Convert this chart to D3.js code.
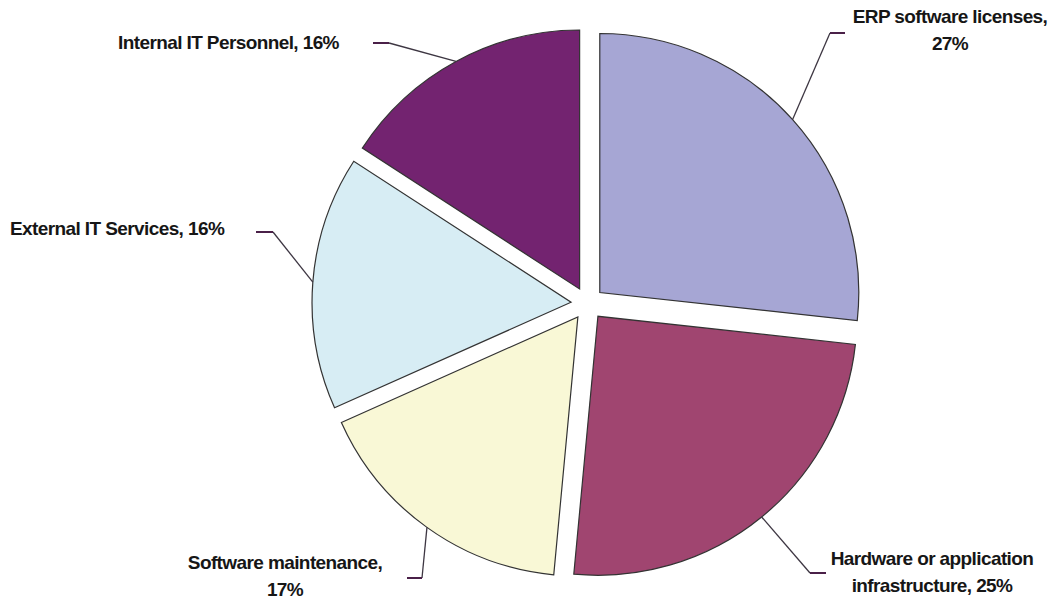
<!DOCTYPE html>
<html>
<head>
<meta charset="utf-8">
<script src="https://cdn.jsdelivr.net/npm/d3@7"></script>
<style>
  body { margin: 0; background: #fff; }
  text { font-family: "Liberation Sans", Arial, sans-serif; font-weight: bold; fill: #161616; }
</style>
</head>
<body>
<div id="chart"></div>
<script>
var svgWidth = 1053;
var svgHeight = 601;

// data
var categories = ["ERP software licenses", "Hardware or application infrastructure", "Software maintenance", "External IT Services", "Internal IT Personnel"];
var values = [27, 25, 17, 16, 16];
var colors = ["#a6a6d4", "#a04570", "#f9f8d6", "#d7edf4", "#732370"];
var labelLines = [
  ["ERP software licenses,", "27%"],
  ["Hardware or application", "infrastructure, 25%"],
  ["Software maintenance,", "17%"],
  ["External IT Services, 16%"],
  ["Internal IT Personnel, 16%"]
];

// layout for labels: text anchor point, elbow and stub end of leader
var labelLayout = [
  { x: 950, y: 23, anchor: "middle", elbow: [830, 33], end: [845, 33] },
  { x: 932, y: 565, anchor: "middle", elbow: [810, 573], end: [826, 573] },
  { x: 285, y: 569, anchor: "middle", elbow: [422, 578], end: [407, 578] },
  { x: 10, y: 235, anchor: "start", elbow: [273, 232], end: [256, 232] },
  { x: 118, y: 49, anchor: "start", elbow: [389, 43], end: [373, 43] }
];

var cx = 587.5, cy = 303.5, radius = 259, explode = 16.5;

var svg = d3.select("#chart")
  .append("svg")
  .attr("width", svgWidth)
  .attr("height", svgHeight);

var pie = d3.pie().sort(null).value(d => d);
var arcs = pie(values);

var arc = d3.arc().innerRadius(0).outerRadius(radius);

var chartGroup = svg.append("g")
  .attr("transform", `translate(${cx}, ${cy})`);

function mid(d) { return (d.startAngle + d.endAngle) / 2; }
function offset(d) {
  var a = mid(d);
  return [explode * Math.sin(a), -explode * Math.cos(a)];
}

//slices
chartGroup.selectAll("path.slice")
  .data(arcs)
  .enter()
  .append("path")
  .attr("class", "slice")
  .attr("d", arc)
  .attr("transform", d => `translate(${offset(d)[0]}, ${offset(d)[1]})`)
  .attr("fill", (d, i) => colors[i])
  .attr("stroke", "#333")
  .attr("stroke-width", 1.2);

//leader lines
arcs.forEach(function(d, i) {
  var o = offset(d);
  var a = mid(d);
  var sx = cx + o[0] + radius * Math.sin(a);
  var sy = cy + o[1] - radius * Math.cos(a);
  var L = labelLayout[i];
  svg.append("polyline")
    .attr("points", [[sx, sy], L.elbow].map(p => p.join(",")).join(" "))
    .attr("fill", "none")
    .attr("stroke", "#3d3642")
    .attr("stroke-width", 1.3);
  svg.append("line")
    .attr("x1", L.elbow[0]).attr("y1", L.elbow[1])
    .attr("x2", L.end[0]).attr("y2", L.end[1])
    .attr("stroke", "#4a2048")
    .attr("stroke-width", 2);
});

//labels
labelLines.forEach(function(lines, i) {
  var L = labelLayout[i];
  var t = svg.append("text")
    .attr("x", L.x)
    .attr("y", L.y)
    .attr("text-anchor", L.anchor)
    .attr("font-size", 19)
    .attr("letter-spacing", -0.6);
  lines.forEach(function(line, j) {
    t.append("tspan")
      .attr("x", L.x)
      .attr("dy", j === 0 ? 0 : 27)
      .text(line);
  });
});
</script>
</body>
</html>
